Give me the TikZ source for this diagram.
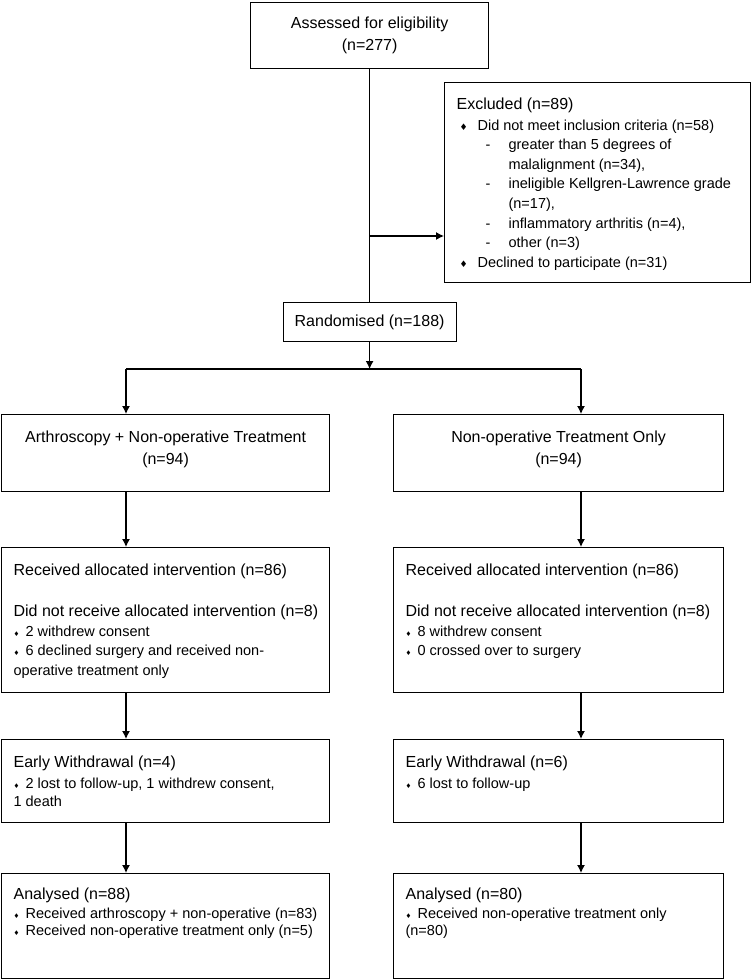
\documentclass[tikz,border=0pt]{standalone}
\usepackage{fontspec}
\setmainfont{Liberation Sans}
\newfontfamily\symfont{DejaVu Sans}
\usetikzlibrary{arrows.meta}

\newcommand{\dmd}{\makebox[12pt][l]{\symfont\fontsize{6.5}{6.5}\selectfont ♦}}
\newcommand{\bigdmd}{\makebox[18pt][l]{\symfont\fontsize{9}{9}\selectfont ♦}}
\newcommand{\hd}[1]{{\fontsize{16}{16}\selectfont #1}}
\newcommand{\boxtext}[4]{\parbox[c][#2][t]{#1}{\raggedright\leftskip=12pt\relax\fontsize{14.5}{#3}\selectfont #4}}
\newcommand{\ctrtext}[3]{\parbox[c][#2][t]{#1}{\centering\fontsize{16}{22}\selectfont #3}}

\begin{document}
\begin{tikzpicture}[x=1pt,y=-1pt]
    \tikzstyle{every node}=[inner sep=0pt]
    \tikzstyle{box}=[draw,line width=1.2pt,anchor=north west]
    \tikzstyle{ln}=[line width=1.2pt]
    \tikzstyle{arr}=[line width=1.2pt,-{Latex[length=8pt,width=8pt]}]
    \useasboundingbox (0,0) rectangle (752,980);
    \node[box,minimum width=238pt,minimum height=66pt,align=center,font={\fontsize{16}{22}\selectfont}] (assess) at (250,2) {Assessed for eligibility\\(n=277)};
    \node[box] (excl) at (444,82) {\boxtext{306pt}{200pt}{19.6}{%
        \rule{0pt}{26.5pt}\hd{Excluded (n=89)}\\[1.4pt]
        \hspace*{3pt}\bigdmd Did not meet inclusion criteria (n=58)\\
        \hspace*{29pt}\makebox[23pt][l]{-}greater than 5 degrees of\\
        \hspace*{52pt}malalignment (n=34),\\
        \hspace*{29pt}\makebox[23pt][l]{-}ineligible Kellgren-Lawrence grade\\
        \hspace*{52pt}(n=17),\\
        \hspace*{29pt}\makebox[23pt][l]{-}inflammatory arthritis (n=4),\\
        \hspace*{29pt}\makebox[23pt][l]{-}other (n=3)\\
        \hspace*{3pt}\bigdmd Declined to participate (n=31)}};
    \node[box,minimum width=173pt,minimum height=39pt,font={\fontsize{16}{22}\selectfont}] (rand) at (282.5,302) {Randomised (n=188)};
    %%%%%
    \node[box] (armA) at (1,414) {\ctrtext{328pt}{77pt}{\rule{0pt}{27.5pt}Arthroscopy + Non-operative Treatment\\(n=94)}};
    \node[box] (armB) at (393,414) {\ctrtext{330pt}{77pt}{\rule{0pt}{27.5pt}Non-operative Treatment Only\\(n=94)}};
    \node[box] (recA) at (1,547) {\boxtext{328pt}{145pt}{19.5}{%
        \rule{0pt}{27.5pt}\hd{Received allocated intervention (n=86)}\\[21.5pt]
        \hd{Did not receive allocated intervention (n=8)}\\[0.5pt]
        \dmd 2 withdrew consent\\
        \dmd 6 declined surgery and received non-\\
        operative treatment only}};
    \node[box] (recB) at (393,547) {\boxtext{330pt}{145pt}{19.5}{%
        \rule{0pt}{27.5pt}\hd{Received allocated intervention (n=86)}\\[21.5pt]
        \hd{Did not receive allocated intervention (n=8)}\\[0.5pt]
        \dmd 8 withdrew consent\\
        \dmd 0 crossed over to surgery}};
    \node[box] (ewA) at (1,739) {\boxtext{328pt}{83pt}{18.5}{%
        \rule{0pt}{27.5pt}\hd{Early Withdrawal (n=4)}\\[2.5pt]
        \dmd 2 lost to follow-up, 1 withdrew consent,\\
        1 death}};
    \node[box] (ewB) at (393,739) {\boxtext{330pt}{83pt}{18.5}{%
        \rule{0pt}{27.5pt}\hd{Early Withdrawal (n=6)}\\[2.5pt]
        \dmd 6 lost to follow-up}};
    \node[box] (anA) at (1,873) {\boxtext{328pt}{105pt}{17.5}{%
        \rule{0pt}{25.5pt}\hd{Analysed (n=88)}\\[1.5pt]
        \dmd Received arthroscopy + non-operative (n=83)\\
        \dmd Received non-operative treatment only (n=5)}};
    \node[box] (anB) at (393,873) {\boxtext{330pt}{105pt}{17.5}{%
        \rule{0pt}{25.5pt}\hd{Analysed (n=80)}\\[1.5pt]
        \dmd Received non-operative treatment only\\
        (n=80)}};
    %%%%%
    \coordinate (ex) at (369,236);
    \coordinate (la) at (126,369);
    \coordinate (ra) at (581,369);
    \draw[ln] (assess.south) -- (rand.north);
    \draw[arr] (ex) -- (ex -| excl.west);
    \draw[arr] (rand.south) -- (rand.south |- la);
    \draw[ln] (la) -- (ra);
    \draw[arr] (la) -- (la |- armA.north);
    \draw[arr] (ra) -- (ra |- armB.north);
    \draw[arr] (la |- armA.south) -- (la |- recA.north);
    \draw[arr] (ra |- armB.south) -- (ra |- recB.north);
    \draw[arr] (la |- recA.south) -- (la |- ewA.north);
    \draw[arr] (ra |- recB.south) -- (ra |- ewB.north);
    \draw[arr] (la |- ewA.south) -- (la |- anA.north);
    \draw[arr] (ra |- ewB.south) -- (ra |- anB.north);
\end{tikzpicture}
\end{document}
